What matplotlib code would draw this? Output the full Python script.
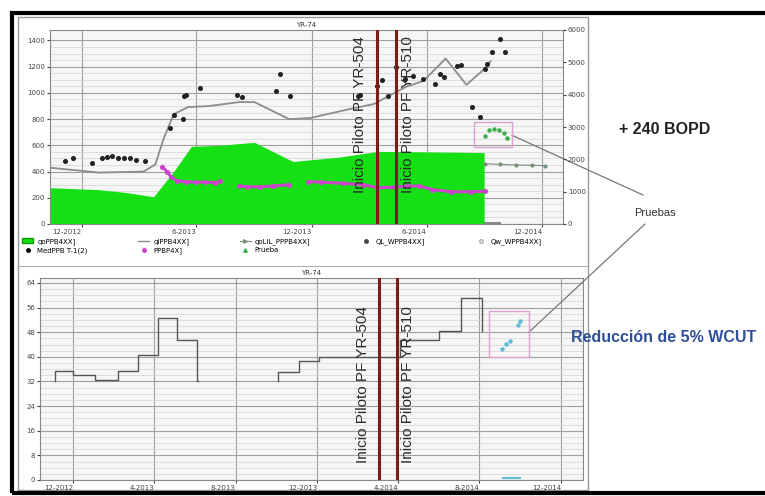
import numpy as np
import pandas as pd
import matplotlib.pyplot as plt
from matplotlib.patches import Rectangle, Patch
from matplotlib.lines import Line2D

plt.rcParams['font.family'] = ['DejaVu Sans']

# ---------------- upper chart (YR-74) ----------------
# green area (qo)
qoDates = pd.to_datetime(['2012-10-11', '2012-12-29', '2013-02-10', '2013-03-25', '2013-04-26',
                          '2013-05-24', '2013-07-07', '2013-09-01', '2013-11-01', '2014-01-13',
                          '2014-03-16', '2014-06-04', '2014-08-31'])
qoVals = [277, 262, 240, 208, 400, 592, 600, 623, 477, 510, 554, 550, 545]

# grey line (ql)
qlDates = pd.to_datetime(['2012-10-11', '2012-12-29', '2013-03-09', '2013-03-28', '2013-04-10',
                          '2013-04-26', '2013-05-19', '2013-06-21', '2013-08-08', '2013-09-01',
                          '2013-10-26', '2013-11-28', '2014-01-30', '2014-03-09', '2014-04-29',
                          '2014-05-27', '2014-07-01', '2014-08-03', '2014-09-01', '2014-09-10'])
qlVals = [430, 392, 400, 454, 650, 838, 892, 900, 930, 930,
          800, 808, 877, 915, 1046, 1092, 1262, 1062, 1185, 1240]

# black dots (well tests)
testDates = pd.to_datetime(['2012-11-04', '2012-11-17', '2012-12-17', '2013-01-03', '2013-01-11',
                            '2013-01-19', '2013-01-27', '2013-02-07', '2013-02-15', '2013-02-26',
                            '2013-03-12', '2013-04-20', '2013-04-26', '2013-05-10', '2013-05-12',
                            '2013-05-15', '2013-06-06', '2013-08-04', '2013-08-12', '2013-10-05',
                            '2013-10-12', '2013-10-28', '2014-02-12', '2014-02-15', '2014-03-14',
                            '2014-03-22', '2014-03-31', '2014-04-13', '2014-04-27', '2014-05-10',
                            '2014-05-26', '2014-06-14', '2014-06-22', '2014-06-29', '2014-07-19',
                            '2014-07-26', '2014-08-11', '2014-08-24', '2014-09-01', '2014-09-04',
                            '2014-09-13', '2014-09-25', '2014-10-03'])
testVals = [477, 500, 469, 500, 508, 515, 505, 500, 500, 492,
            477, 730, 830, 800, 977, 985, 1038, 985, 970, 1015,
            1146, 977, 977, 985, 1054, 1100, 977, 1200, 1108, 1131,
            1108, 1069, 1146, 1123, 1208, 1215, 892, 815, 1185, 1223,
            1315, 1415, 1315]

# magenta (PPBP) with gaps
ppDates = pd.to_datetime(['2013-04-08', '2013-04-15', '2013-04-22', '2013-05-01', '2013-05-15',
                          '2013-06-01', '2013-06-15', '2013-07-01', '2013-07-08', '2013-07-20',
                          '2013-08-08', '2013-08-20', '2013-09-10', '2013-10-01', '2013-10-25',
                          '2013-11-08', '2013-11-25', '2013-12-15', '2014-01-20', '2014-02-20',
                          '2014-03-15', '2014-04-10', '2014-05-01', '2014-05-20', '2014-06-10',
                          '2014-07-10', '2014-08-10', '2014-09-01'])
ppVals = [438, 400, 360, 330, 323, 318, 320, 316, 325, np.nan,
          290, 285, 283, 290, 300, np.nan, 323, 320, 310, 300,
          277, 280, 290, 290, 262, 246, 246, 250]

# grey-green forecast line after tests
fcDates = pd.to_datetime(['2014-09-01', '2014-09-25', '2014-10-20', '2014-11-15', '2014-12-05'])
fcVals = [460, 455, 450, 448, 445]

# green test points in the box
prDates = pd.to_datetime(['2014-09-01', '2014-09-08', '2014-09-16', '2014-09-24', '2014-10-01', '2014-10-07'])
prVals = [669, 715, 723, 715, 692, 654]

# ---------------- lower chart (water cut) ----------------
wcDates = pd.to_datetime(['2012-11-04', '2012-11-04', '2012-12-01', '2013-01-03', '2013-02-06',
                          '2013-03-07', '2013-04-06', '2013-05-05', '2013-06-04', '2013-06-05',
                          '2013-10-04', '2013-10-04', '2013-11-04', '2013-12-04', '2014-04-04',
                          '2014-06-02', '2014-07-04', '2014-08-05'])
wcVals = [32, 35.5, 34, 32.5, 35.5, 40.5, 52.5, 45.5, 32, np.nan,
          32, 35, 38.5, 40, 45.5, 48.5, 59, 48.5]

wcTestDates = pd.to_datetime(['2014-09-04', '2014-09-10', '2014-09-15', '2014-09-27', '2014-09-30'])
wcTestVals = [42.6, 44.3, 45.2, 50.2, 51.5]

topPilot = pd.to_datetime(['2014-03-15', '2014-04-13'])
botPilot = pd.to_datetime(['2014-03-03', '2014-03-30'])
pilotNames = ['Inicio Piloto PF YR-504', 'Inicio Piloto PF YR-510']

topTicks = pd.to_datetime(['2012-12-01', '2013-06-01', '2013-12-01', '2014-06-01', '2014-12-01'])
topTickLabels = ['12-2012', '6-2013', '12-2013', '6-2014', '12-2014']
botTicks = pd.to_datetime(['2012-12-01', '2013-04-01', '2013-08-01', '2013-12-01',
                           '2014-04-01', '2014-08-01', '2014-12-01'])
botTickLabels = ['12-2012', '4-2013', '8-2013', '12-2013', '4-2014', '8-2014', '12-2014']

xmin, xmax = pd.Timestamp('2012-10-12'), pd.Timestamp('2015-01-03')

W, H = 765, 496
fig = plt.figure(figsize=(W / 100, H / 100), dpi=100)
fig.patch.set_facecolor('white')

# panel + outer frame
fig.patches.append(Rectangle((18 / W, 6 / H), 570 / W, 473 / H, transform=fig.transFigure,
                             facecolor='white', edgecolor='#9a9a9a', lw=1, zorder=-5))
fig.add_artist(Line2D([18 / W, 588 / W], [1 - 266 / H, 1 - 266 / H], color='#b0b0b0', lw=0.8, zorder=-4))
fig.patches.append(Rectangle((12 / W, 3 / H), 1.0, 480 / H, transform=fig.transFigure,
                             fill=False, edgecolor='black', lw=3, zorder=5))


def style_axes(ax, yticks, minor_step, ticks, ticklabels):
    ax.set_facecolor('#f6f6f6')
    ax.set_xlim(xmin, xmax)
    ax.set_yticks(yticks)
    ax.set_yticks(np.arange(0, yticks[-1] + minor_step, minor_step), minor=True)
    ax.set_xticks(ticks)
    ax.set_xticklabels(ticklabels, ha='right')
    ax.tick_params(labelsize=5, colors='#444', length=2, pad=1.5)
    ax.tick_params(which='minor', length=0)
    ax.grid(True, which='major', color='#a0a0a0', lw=0.8)
    ax.grid(True, which='minor', axis='y', color='#d4d4d4', lw=0.5)
    ax.set_axisbelow(True)
    for s in ax.spines.values():
        s.set_color('#888')
        s.set_linewidth(0.8)
    ax.set_title('YR-74', fontsize=5, pad=2, color='#333')


# ---------------- top axes ----------------
axTop = fig.add_axes([50 / W, 1 - 224 / H, 513 / W, 194 / H])
style_axes(axTop, np.arange(0, 1401, 200), 50, topTicks, topTickLabels)
axTop.set_ylim(0, 1480)

axTop.fill_between(qoDates, qoVals, 0, color='#14e014', lw=0, zorder=2)
axTop.plot(qlDates, qlVals, color='#8c8c8c', lw=1.3, zorder=3)
axTop.plot(ppDates, ppVals, color='#cc44cc', lw=2.2, marker='o', ms=2.6, zorder=4)
axTop.plot(fcDates, fcVals, color='#7a8f7a', lw=0.8, marker='o', ms=2, zorder=3)
axTop.plot(testDates, testVals, ls='none', marker='o', ms=2.6, color='#222222', zorder=5)
axTop.plot(prDates, prVals, ls='none', marker='o', ms=2.2, color='#3cb04a', zorder=5)
axTop.plot(pd.to_datetime(['2014-09-01', '2014-09-25']), [10, 10], color='#888', lw=1.5, zorder=3)
axTop.add_patch(Rectangle((pd.Timestamp('2014-08-15'), 586),
                          pd.Timestamp('2014-10-14') - pd.Timestamp('2014-08-15'), 190,
                          fill=False, edgecolor='#d9a0d0', lw=1.0, zorder=6))

axRight = axTop.twinx()
axRight.set_ylim(0, 6000)
axRight.set_yticks(np.arange(0, 6001, 1000))
axRight.tick_params(labelsize=5, colors='#444', length=2, pad=1.5)
for s in axRight.spines.values():
    s.set_visible(False)

for d in topPilot:
    axTop.axvline(d, color='#7d1a1a', lw=2.2, zorder=7)
axTop.text(pd.Timestamp('2014-02-16'), 0.565, pilotNames[0], rotation=90, ha='center', va='center',
           fontsize=11, family='Liberation Sans', color='#2b2b2b',
           transform=axTop.get_xaxis_transform(), zorder=8)
axTop.text(pd.Timestamp('2014-05-02'), 0.565, pilotNames[1], rotation=90, ha='center', va='center',
           fontsize=11, family='Liberation Sans', color='#2b2b2b',
           transform=axTop.get_xaxis_transform(), zorder=8)

# legend of the upper chart
handles = [Patch(facecolor='#14e014', edgecolor='#0a9a0a'),
           Line2D([], [], color='black', marker='o', ls='none', ms=2.5),
           Line2D([], [], color='#8c8c8c', lw=1),
           Line2D([], [], color='#cc44cc', marker='o', ls='none', ms=2.5),
           Line2D([], [], color='#7a8f7a', lw=0.8, marker='>', ms=2.5),
           Line2D([], [], color='#3cb04a', marker='^', ls='none', ms=2.5),
           Line2D([], [], color='#444', marker='o', ls='none', ms=2.5),
           Line2D([], [], color='#aaa', marker='o', ls='none', ms=2.5, mfc='white')]
labels = ['qoPPB4XX]', 'MedPPB T-1(2)', 'qlPPB4XX]', 'PPBP4X]', 'qoLiL_PPPB4XX]',
          'Prueba', 'QL_WPPB4XX]', 'Qw_WPPB4XX]']
fig.legend(handles, labels, loc='upper left', bbox_to_anchor=(22 / W, 1 - 250 / H, 520 / W, 12 / H),
           mode='expand', ncol=5, fontsize=5, frameon=False, handlelength=1.6,
           handletextpad=0.6, labelspacing=0.35, borderaxespad=0, borderpad=0)

# ---------------- bottom axes ----------------
axBot = fig.add_axes([40 / W, 16 / H, 543 / W, 202 / H])
style_axes(axBot, np.arange(0, 65, 8), 2, botTicks, botTickLabels)
axBot.set_ylim(0, 65.6)

axBot.plot(wcDates, wcVals, drawstyle='steps-post', color='#555', lw=1.0, zorder=3)
axBot.plot(wcTestDates, wcTestVals, ls='none', marker='o', ms=2.2, color='#5bbcd6', zorder=5)
axBot.plot(pd.to_datetime(['2014-09-05', '2014-09-30']), [0.8, 0.8], color='#5bbcd6', lw=1.5, zorder=3)
axBot.add_patch(Rectangle((pd.Timestamp('2014-08-16'), 40),
                          pd.Timestamp('2014-10-14') - pd.Timestamp('2014-08-16'), 14.75,
                          fill=False, edgecolor='#d9a0d0', lw=1.0, zorder=6))

for d in botPilot:
    axBot.axvline(d, color='#7d1a1a', lw=2.2, zorder=7)
axBot.text(pd.Timestamp('2014-02-07'), 0.47, pilotNames[0], rotation=90, ha='center', va='center',
           fontsize=11, family='Liberation Sans', color='#2b2b2b',
           transform=axBot.get_xaxis_transform(), zorder=8)
axBot.text(pd.Timestamp('2014-04-16'), 0.47, pilotNames[1], rotation=90, ha='center', va='center',
           fontsize=11, family='Liberation Sans', color='#2b2b2b',
           transform=axBot.get_xaxis_transform(), zorder=8)

# ---------------- slide annotations ----------------
fig.text(665 / W, 1 - 130 / H, '+ 240 BOPD', fontsize=11.5, fontweight='bold',
         family='Liberation Sans', ha='center', va='center', color='#222')
fig.text(655 / W, 1 - 213 / H, 'Pruebas', fontsize=8, family='Liberation Sans',
         ha='center', va='center', color='#333')
fig.text(664 / W, 1 - 338 / H, 'Reducción de 5% WCUT', fontsize=11.5, fontweight='bold',
         family='Liberation Sans', ha='center', va='center', color='#2f4f9a')

axTop.annotate('', xy=(pd.Timestamp('2014-10-14'), 677), xycoords='data',
               xytext=(643 / W, 1 - 195 / H), textcoords='figure fraction',
               arrowprops=dict(arrowstyle='-', color='#777', lw=0.9, shrinkA=0, shrinkB=0),
               annotation_clip=False)
axBot.annotate('', xy=(pd.Timestamp('2014-10-14'), 48), xycoords='data',
               xytext=(645 / W, 1 - 224 / H), textcoords='figure fraction',
               arrowprops=dict(arrowstyle='-', color='#777', lw=0.9, shrinkA=0, shrinkB=0),
               annotation_clip=False)

plt.savefig('out.png', dpi=100)
